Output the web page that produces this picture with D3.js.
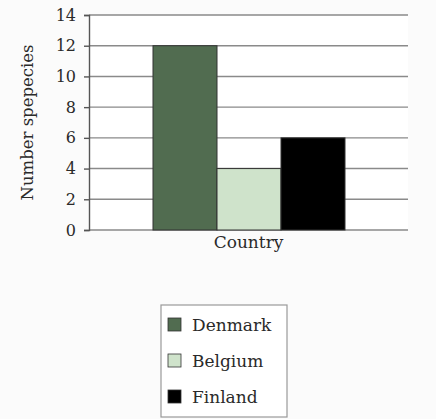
<!DOCTYPE html>
<html><head><meta charset="utf-8">
<script src="https://cdn.jsdelivr.net/npm/d3@7/dist/d3.min.js"></script>
<style>body{margin:0;background:#fbfbfb;} svg{display:block;}</style>
</head><body>
<script>
const countries = ["Denmark", "Belgium", "Finland"];
const species = [12, 4, 6];
const colors = ["#516c50", "#cfe3cb", "#000000"];
const yTicks = [0, 2, 4, 6, 8, 10, 12, 14];
const xCategory = ["Country"];
const yTitle = "Number spepecies";

const W = 436, H = 419;
const m = {left: 89, right: 408, top: 15, bottom: 230};
const font = "'DejaVu Serif', 'Liberation Serif', serif";

const svg = d3.select("body").append("svg").attr("width", W).attr("height", H);
svg.append("rect").attr("width", W).attr("height", H).attr("fill", "#fbfbfb");

const y = d3.scaleLinear().domain([0, 14]).range([m.bottom, m.top]);
const xOuter = d3.scaleBand().domain(xCategory).range([m.left, m.right]).paddingInner(0).paddingOuter(0.2);
const xInner = d3.scaleBand().domain(countries).range([153, 345]);

svg.append("rect").attr("x", m.left).attr("y", m.top).attr("width", m.right - m.left).attr("height", m.bottom - m.top).attr("fill", "#ffffff");

svg.append("g").selectAll("line").data(yTicks).join("line")
  .attr("x1", m.left).attr("x2", m.right)
  .attr("y1", d => y(d)).attr("y2", d => y(d))
  .attr("stroke", "#8a8a8a").attr("stroke-width", 1.4);

svg.append("g").selectAll("rect").data(countries).join("rect")
  .attr("x", d => xInner(d)).attr("width", xInner.bandwidth())
  .attr("y", (d, i) => y(species[i])).attr("height", (d, i) => y(0) - y(species[i]))
  .attr("fill", (d, i) => colors[i]).attr("stroke", "#333").attr("stroke-width", 1);

const yAxis = d3.axisLeft(y).tickValues(yTicks).tickSize(5).tickPadding(8);
const gy = svg.append("g").attr("transform", `translate(${m.left},0)`).call(yAxis);
gy.select(".domain").attr("stroke", "#555").attr("stroke-width", 1.4);
gy.selectAll(".tick line").attr("stroke", "#555").attr("stroke-width", 1.4);
gy.selectAll("text").attr("font-family", font).attr("font-size", 16).attr("fill", "#2a2a2a");

const gx = svg.append("g").attr("transform", `translate(0,${m.bottom})`)
  .call(d3.axisBottom(xOuter).tickSize(0).tickPadding(6));
gx.select(".domain").remove();
gx.selectAll("text").attr("font-family", font).attr("font-size", 17).attr("fill", "#2a2a2a")
  .attr("x", (m.left + m.right) / 2 - xOuter("Country") - xOuter.bandwidth() / 2);

svg.append("text").attr("transform", `translate(33,${(m.top + m.bottom) / 2}) rotate(-90)`)
  .attr("text-anchor", "middle").attr("font-family", font).attr("font-size", 16.5).attr("fill", "#2a2a2a")
  .text(yTitle);

const lg = svg.append("g");
lg.append("rect").attr("x", 161).attr("y", 305).attr("width", 126).attr("height", 112)
  .attr("fill", "#ffffff").attr("stroke", "#999").attr("stroke-width", 1.2);
const rowY = d3.scalePoint().domain(countries).range([325, 397]);
const items = lg.selectAll("g.item").data(countries).join("g").attr("class", "item")
  .attr("transform", d => `translate(0,${rowY(d)})`);
items.append("rect").attr("x", 168).attr("y", -7).attr("width", 13).attr("height", 13)
  .attr("fill", (d, i) => colors[i]).attr("stroke", "#333").attr("stroke-width", 0.8);
items.append("text").attr("x", 192).attr("y", 6).attr("font-family", font).attr("font-size", 17)
  .attr("fill", "#2a2a2a").text(d => d);
</script>
</body></html>
